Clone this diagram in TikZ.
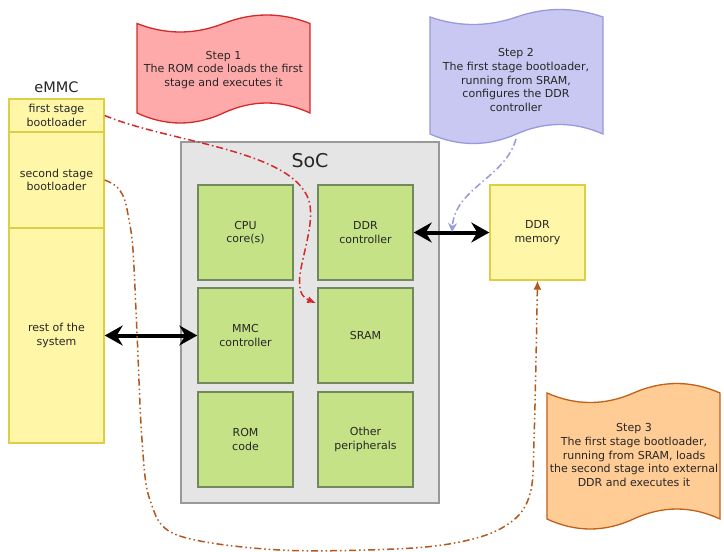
\documentclass[tikz,border=0pt]{standalone}
\usepackage{fontspec}
\setmainfont{DejaVu Sans}
\usetikzlibrary{arrows.meta,calc}
\definecolor{emmcfill}{RGB}{255,246,168}
\definecolor{emmcline}{RGB}{222,206,70}
\definecolor{greenfill}{RGB}{197,226,135}
\definecolor{greenline}{RGB}{112,138,94}
\definecolor{socfill}{RGB}{229,229,229}
\definecolor{socline}{RGB}{153,153,153}
\definecolor{redfill}{RGB}{255,170,170}
\definecolor{redline}{RGB}{212,42,42}
\definecolor{bluefill}{RGB}{200,200,242}
\definecolor{blueline}{RGB}{153,153,221}
\definecolor{orangefill}{RGB}{255,204,150}
\definecolor{brownline}{RGB}{178,88,28}
\newcommand{\wavebanner}[7]{%
 \path[#1] (#2,#4)
  .. controls ({#2+(#3-#2)/6},{#4+1.333*#5}) and ({#2+(#3-#2)/3},{#4+1.333*#5}) .. ({(#2+#3)/2},#4)
  .. controls ({#2+2*(#3-#2)/3},{#4-1.333*#5}) and ({#2+5*(#3-#2)/6},{#4-1.333*#5}) .. (#3,#4)
  -- (#3,#6)
  .. controls ({#2+5*(#3-#2)/6},{#6-1.333*#7}) and ({#2+2*(#3-#2)/3},{#6-1.333*#7}) .. ({(#2+#3)/2},#6)
  .. controls ({#2+(#3-#2)/3},{#6+1.333*#7}) and ({#2+(#3-#2)/6},{#6+1.333*#7}) .. (#2,#6)
  -- cycle;}
\tikzset{
  txt/.style={font=\fontsize{11}{13.7}\selectfont, align=center, text=black!85},
  emmcbox/.style={txt, draw=emmcline, fill=emmcfill, line width=1.4pt, minimum width=95pt, inner sep=0pt},
  greenbox/.style={txt, draw=greenline, fill=greenfill, line width=1.5pt, minimum width=95pt, minimum height=95pt, inner sep=0pt},
  bigarrow/.style={line width=4pt, {Stealth[length=18pt,width=20pt,inset=6pt]}-{Stealth[length=18pt,width=20pt,inset=6pt]}},
  redconn/.style={draw=redline, line width=1.5pt, dash pattern=on 7pt off 3pt on 1.5pt off 3pt, -{Latex[length=9pt,width=7pt]}},
  blueconn/.style={draw=blueline, line width=1.5pt, dash pattern=on 7pt off 3pt on 1.5pt off 3pt, -{Stealth[length=9pt,width=9pt,inset=3pt]}},
  brownconn/.style={draw=brownline, line width=1.5pt, dash pattern=on 7pt off 3pt on 1.5pt off 3pt on 1.5pt off 3pt, -{Latex[length=9pt,width=8pt]}}
}
\begin{document}
\begin{tikzpicture}[x=1pt,y=-1pt]
\useasboundingbox (0,0) rectangle (724,552);
\fill[white] (0,0) rectangle (724,552);

% banners
\wavebanner{draw=redline, fill=redfill, line width=1.3pt}{137}{310}{23.5}{8.5}{113}{10}
\wavebanner{draw=blueline, fill=bluefill, line width=1.3pt}{430}{603}{17}{7.5}{134}{9.5}
\wavebanner{draw=brownline!80!orange, fill=orangefill, line width=1.3pt}{547}{720}{393}{9.5}{519}{10}
\node[txt] (step1) at (223.5,70) {Step 1\\The ROM code loads the first\\stage and executes it};
\node[txt] (step2) at (516,80) {Step 2\\The first stage bootloader,\\running from SRAM,\\configures the DDR\\controller};
\node[txt] (step3) at (634,455) {Step 3\\The first stage bootloader,\\running from SRAM, loads\\the second stage into external\\DDR and executes it};
\coordinate (s2b) at (516,139);

% eMMC
\node[txt, font=\fontsize{14.5}{16}\selectfont] (emmclabel) at (56.5,87) {eMMC};
\node[emmcbox, minimum height=33pt] (fsb) at (56.5,115.5) {first stage\\bootloader};
\node[emmcbox, minimum height=96pt] (ssb) at (56.5,180) {second stage\\bootloader};
\node[emmcbox, minimum height=215pt] (rest) at (56.5,335.5) {rest of the\\system};

% SoC
\node[draw=socline, fill=socfill, line width=1.5pt, minimum width=258pt, minimum height=361pt, inner sep=0pt] (soc) at (310,322.5) {};
\node[txt, font=\fontsize{19}{22}\selectfont] (soclabel) at (310,161) {SoC};
\node[greenbox] (cpu) at (245.5,232.5) {CPU\\core(s)};
\node[greenbox] (ddrc) at (365.5,232.5) {DDR\\controller};
\node[greenbox] (mmc) at (245.5,335.5) {MMC\\controller};
\node[greenbox] (sram) at (365.5,335.5) {SRAM};
\node[greenbox] (rom) at (245.5,439.5) {ROM\\code};
\node[greenbox] (other) at (365.5,439.5) {Other\\peripherals};

% DDR memory
\node[emmcbox, minimum height=95pt] (ddrmem) at (537.5,232.5) {DDR\\memory};

% black arrows
\draw[bigarrow] (ddrc.east) -- (ddrmem.west);
\draw[bigarrow] (rest.east) -- (mmc.west);
\coordinate (ddrbus) at (452,232);

% dashed connectors
\draw[redconn] (fsb.east) .. controls (170,143) and (300,150) .. (310,205)
   .. controls (315,240) and (285,290) .. ($(sram.north west)+(-1,16)$);
\draw[blueconn] (s2b) .. controls (505,178) and (455,188) .. (ddrbus);
\draw[brownconn] plot[smooth, tension=0.55] coordinates {(ssb.east) (116,186) (124,198) (129,220) (133,250) (137,333) (142,440) (150,500) (177,535) (280,550) (413,548) (480,537) (516,518) (531,490) (534,440) (536,360) (ddrmem.south)};
\end{tikzpicture}
\end{document}
